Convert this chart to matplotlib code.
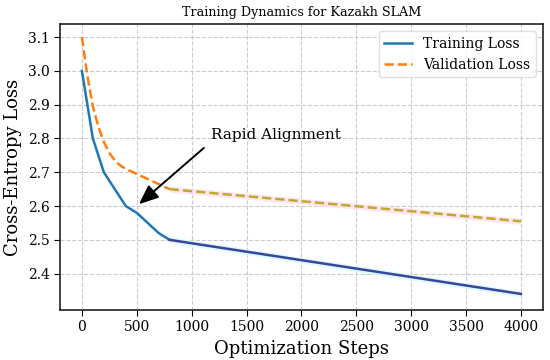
import matplotlib
matplotlib.use("Agg")
import matplotlib.pyplot as plt
import numpy as np

plt.rcParams['font.family'] = ['DejaVu Serif']

train_steps = [0, 100, 200, 300, 400, 500, 600, 700, 800, 4000]
train_loss = [3.0, 2.8, 2.7, 2.65, 2.6, 2.58, 2.55, 2.52, 2.5, 2.34]

val_steps = [0, 50, 100, 150, 200, 250, 300, 350, 400, 500, 600, 700, 800, 4000]
val_loss = [3.1, 2.985, 2.895, 2.835, 2.79, 2.757, 2.735, 2.72, 2.71, 2.695, 2.68, 2.665, 2.65, 2.555]

split_step = 800
band = 0.009

fig = plt.figure(figsize=(5.5, 3.6), dpi=100)
ax = fig.add_axes([0.109, 0.139, 0.878, 0.794])

ts = np.array(train_steps); tl = np.array(train_loss)
vs = np.array(val_steps); vl = np.array(val_loss)
ti = list(ts).index(split_step)
vi = list(vs).index(split_step)

ax.fill_between(ts[ti:], tl[ti:] - band, tl[ti:] + band, color='#d6fbfb', alpha=0.8, lw=0)
ax.fill_between(vs[vi:], vl[vi:] - band, vl[vi:] + band, color='#fde0ef', alpha=0.8, lw=0)

ax.plot(ts[:ti + 1], tl[:ti + 1], color='#1f77b4', lw=1.8, label='Training Loss')
ax.plot(vs[:vi + 1], vl[:vi + 1], color='#ff7f0e', lw=1.8, ls='--', label='Validation Loss')
ax.plot(ts[ti:], tl[ti:], color='#3a469c', lw=1.8)
ax.plot(vs[vi:], vl[vi:], color='#c2a82c', lw=1.8, ls='--')

ax.annotate('Rapid Alignment', xy=(500, 2.6), xytext=(1175, 2.79),
            fontsize=11, va='bottom', ha='left',
            arrowprops=dict(arrowstyle='-|>,head_length=0.6,head_width=0.25',
                            color='black', lw=1.4,
                            mutation_scale=20, shrinkA=4, shrinkB=2,
                            relpos=(0.0, 0.0)))

ax.set_title('Training Dynamics for Kazakh SLAM', fontsize=9.2)
ax.set_xlabel('Optimization Steps', fontsize=13)
ax.set_ylabel('Cross-Entropy Loss', fontsize=13)
ax.set_xticks(np.arange(0, 4001, 500))
ax.set_yticks([2.4, 2.5, 2.6, 2.7, 2.8, 2.9, 3.0, 3.1])
ax.tick_params(labelsize=10, direction='out', length=4)
ax.grid(True, ls='--', color='#cccccc', lw=0.8)
ax.set_axisbelow(True)
for s in ax.spines.values():
    s.set_linewidth(1.2)
    s.set_color('#222222')

leg = ax.legend(loc='upper right', fontsize=10, frameon=True, framealpha=0.9,
                edgecolor='#dddddd')

fig.savefig('out.png', dpi=100)
